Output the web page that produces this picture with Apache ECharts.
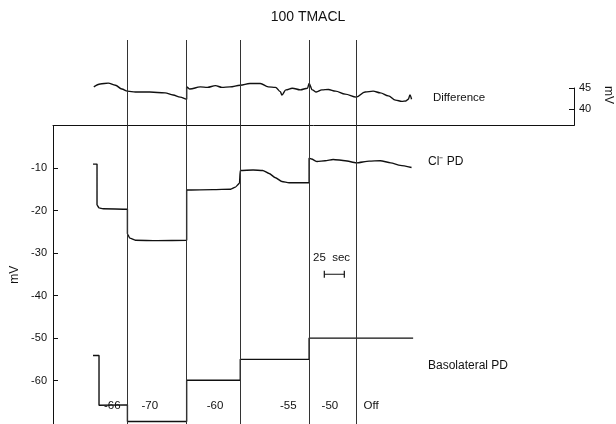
<!DOCTYPE html>
<html>
<head>
<meta charset="utf-8">
<script src="https://cdn.jsdelivr.net/npm/echarts@6/dist/echarts.min.js"></script>
<style>
html,body{margin:0;padding:0;background:#fff;}
#chart{width:616px;height:424px;}
</style>
</head>
<body>
<div id="chart"></div>
<script>
// ---- Data (time in seconds, potentials in mV) ----
const stepTimes = [93, 167, 234, 320, 379];            // clamp-step changes (vertical lines)
const clampLabels = ['-66', '-70', '-60', '-55', '-50', 'Off'];
const clampLabelTimes = [74, 121, 202.5, 294, 346, 397.5];
const leftTicks = [-60, -50, -40, -30, -20, -10];
const diffTicks = [40, 45];

const differenceTrace = [
  [51, 45.2], [59, 45.9], [69, 46.1], [78, 45.6], [86, 44.7], [93, 44.2], [103, 44.0],
  [121, 44.0], [140, 43.8], [150, 43.3], [159, 42.8], [167, 42.3], [167, 45.2], [171, 44.7],
  [184, 45.2], [193, 45.1], [203, 45.5], [211, 45.1], [221, 45.2], [234, 45.6], [246, 46.0],
  [259, 46.0], [269, 45.2], [278, 45.1], [284, 44.1], [286, 43.3], [291, 44.5], [299, 44.9],
  [309, 44.5], [318, 44.9], [320, 46.0], [324, 44.5], [329, 44.0], [336, 44.5], [344, 44.6],
  [353, 44.2], [365, 43.5], [379, 42.8], [390, 44.0], [400, 44.2], [409, 43.8], [419, 43.1],
  [428, 42.1], [436, 41.8], [441, 41.9], [444, 42.3], [446, 43.3], [448, 42.3]
];

const clTrace = [
  [50, -9.1], [55, -9.1], [55, -18.7], [57.5, -19.4], [62.5, -19.6], [93, -19.7],
  [93, -25.5], [96, -26.5], [103, -27.0], [130, -27.1], [167, -27.0],
  [167, -15.2], [200, -15.1], [222, -15.0], [228, -14.5], [233, -13.6],
  [234, -10.6], [250, -10.5], [262, -10.6], [270, -11.3], [278, -12.3], [286, -13.2], [295, -13.5], [320, -13.5],
  [320, -7.7], [323, -7.9], [330, -8.5], [340, -8.3], [350, -8.0], [365, -8.3], [379, -8.8],
  [395, -8.4], [409, -8.3], [422, -8.8], [434, -9.4], [448, -9.9]
];

const basolateralTrace = [
  [50, -54.1], [57.5, -54.1], [57.5, -65.8], [93, -65.7], [93, -69.6], [167, -69.6],
  [167, -59.9], [234, -59.9], [234, -55.0], [320, -55.0], [320, -50.0], [450, -50.0]
];

const scaleBar = [[339, -35], [364, -35]];   // 25 s time bar

// ---- Chart ----
const FONT = "'Liberation Sans', Arial, Helvetica, sans-serif";
const INK = '#111';
const chart = echarts.init(document.getElementById('chart'), null, {renderer: 'canvas'});

const vLines = stepTimes.map(t => ({xAxis: t}));
const vLineStyle = {color: '#333', width: 1, type: 'solid'};

function findLabel(v) {
  for (let i = 0; i < clampLabelTimes.length; i++) {
    if (Math.abs(clampLabelTimes[i] - v) < 1e-6) return clampLabels[i];
  }
  return '';
}

const option = {
  backgroundColor: '#fff',
  animation: false,
  title: {
    text: '100 TMACL',
    left: 'center',
    top: 5,
    textStyle: {fontFamily: FONT, fontSize: 14, fontWeight: 'normal', color: INK}
  },
  grid: [
    {left: 53, right: 42, top: 40, height: 85.4, outerBoundsMode: 'none', containLabel: false},
    {left: 53, right: 42, top: 125.4, bottom: 0, outerBoundsMode: 'none', containLabel: false},
    {left: 564, width: 10, top: 88, height: 37.4, outerBoundsMode: 'none', containLabel: false}
  ],
  xAxis: [
    {gridIndex: 0, type: 'value', min: 0, max: 651, show: false},
    {gridIndex: 1, type: 'value', min: 0, max: 651, position: 'top',
      axisLine: {show: true, onZero: false, lineStyle: {color: INK, width: 1}},
      axisTick: {show: false}, axisLabel: {show: false}, splitLine: {show: false}},
    {gridIndex: 1, type: 'value', min: 0, max: 651, position: 'bottom',
      axisLine: {show: false, onZero: false}, axisTick: {show: false}, splitLine: {show: false},
      axisLabel: {show: true, inside: true, margin: 12, customValues: clampLabelTimes,
        formatter: v => findLabel(v), fontFamily: FONT, fontSize: 11.5, color: INK}},
    {gridIndex: 2, type: 'value', min: 0, max: 1, show: false}
  ],
  yAxis: [
    {gridIndex: 0, type: 'value', min: 36.14, max: 56.24, show: false},
    {gridIndex: 1, type: 'value', min: -70.2, max: 0,
      name: 'mV', nameLocation: 'middle', nameGap: 31, nameRotate: 90,
      nameTextStyle: {fontFamily: FONT, fontSize: 12, color: INK},
      axisLine: {show: true, onZero: false, lineStyle: {color: INK, width: 1}},
      axisTick: {show: true, inside: true, length: 5, customValues: leftTicks, lineStyle: {color: INK}},
      axisLabel: {show: true, customValues: leftTicks, margin: 6, fontFamily: FONT, fontSize: 11, color: INK},
      splitLine: {show: false}},
    {gridIndex: 2, type: 'value', min: 36.14, max: 45, position: 'right',
      axisLine: {show: true, onZero: false, lineStyle: {color: INK, width: 1}},
      axisTick: {show: true, inside: true, length: 5, customValues: diffTicks, lineStyle: {color: INK}},
      axisLabel: {show: true, customValues: diffTicks, margin: 5, fontFamily: FONT, fontSize: 11, color: INK},
      splitLine: {show: false}}
  ],
  series: [
    {
      name: 'Difference', type: 'line', xAxisIndex: 0, yAxisIndex: 0,
      data: differenceTrace, showSymbol: false, smooth: 0.35, smoothMonotone: 'x',
      lineStyle: {color: INK, width: 1.4},
      markLine: {silent: true, symbol: 'none', label: {show: false}, lineStyle: vLineStyle, data: vLines}
    },
    {
      name: 'Cl PD', type: 'line', xAxisIndex: 1, yAxisIndex: 1,
      data: clTrace, showSymbol: false, smooth: 0.2, smoothMonotone: 'x',
      lineStyle: {color: INK, width: 1.4},
      markLine: {silent: true, symbol: 'none', label: {show: false}, lineStyle: vLineStyle, data: vLines}
    },
    {
      name: 'Basolateral PD', type: 'line', xAxisIndex: 1, yAxisIndex: 1,
      data: basolateralTrace, showSymbol: false,
      lineStyle: {color: INK, width: 1.4}
    },
    {
      name: 'scale', type: 'line', xAxisIndex: 1, yAxisIndex: 1,
      data: scaleBar, symbol: 'rect', symbolSize: [1.2, 7], showSymbol: true,
      itemStyle: {color: INK}, lineStyle: {color: INK, width: 1.2}
    }
  ],
  graphic: [
    {type: 'text', left: 433, top: 92, style: {text: 'Difference', font: '11.5px ' + FONT, fill: INK}},
    {type: 'text', left: 428, top: 156, style: {text: 'Cl\u207B PD', font: '12px ' + FONT, fill: INK}},
    {type: 'text', left: 428, top: 360, style: {text: 'Basolateral PD', font: '12px ' + FONT, fill: INK}},
    {type: 'text', left: 313, top: 252, style: {text: '25  sec', font: '11.5px ' + FONT, fill: INK}},
    {type: 'text', x: 614, y: 86, rotation: -Math.PI / 2, style: {text: 'mV', font: '12px ' + FONT, fill: INK}}
  ]
};
chart.setOption(option);
</script>
</body>
</html>
